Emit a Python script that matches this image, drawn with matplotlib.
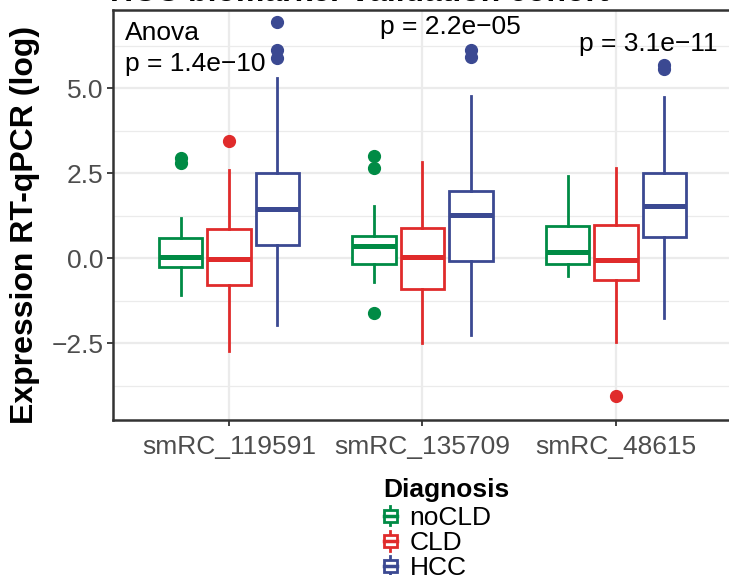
import matplotlib
matplotlib.use('Agg')
import matplotlib.pyplot as plt
from matplotlib.legend_handler import HandlerBase
from matplotlib.patches import Rectangle
from matplotlib.lines import Line2D

plt.rcParams['font.family'] = ['Liberation Sans', 'DejaVu Sans']

genes = ['smRC_119591', 'smRC_135709', 'smRC_48615']
groups = ['noCLD', 'CLD', 'HCC']
colors = ['#008B45', '#E02B2B', '#3B4992']
p_labels = ['p = 1.4e\u221210', 'p = 2.2e\u221205', 'p = 3.1e\u221211']

# box statistics, one value per gene
med = {'noCLD': [0.04, 0.35, 0.18], 'CLD': [-0.02, 0.03, -0.06], 'HCC': [1.46, 1.26, 1.54]}
q1 = {'noCLD': [-0.26, -0.17, -0.17], 'CLD': [-0.78, -0.90, -0.63], 'HCC': [0.40, -0.07, 0.62]}
q3 = {'noCLD': [0.59, 0.67, 0.94], 'CLD': [0.86, 0.89, 0.99], 'HCC': [2.50, 1.99, 2.52]}
whislo = {'noCLD': [-1.07, -0.70, -0.53], 'CLD': [-2.74, -2.50, -2.46], 'HCC': [-1.96, -2.25, -1.76]}
whishi = {'noCLD': [1.18, 1.54, 2.41], 'CLD': [2.60, 2.83, 2.65], 'HCC': [5.30, 4.78, 4.75]}
fliers = {
    'noCLD': [[2.96, 2.80], [3.02, 2.65, -1.61], []],
    'CLD': [[3.46], [], [-4.06]],
    'HCC': [[6.95, 6.13, 5.89], [6.13, 5.93], [5.70, 5.56]],
}

fig = plt.figure(figsize=(7.29, 5.75), dpi=100)
ax = fig.add_axes([113 / 729, 1 - 420 / 575, (732 - 113) / 729, 410 / 575])

dodge = 0.25
for j, (g, c) in enumerate(zip(groups, colors)):
    stats = []
    for i in range(len(genes)):
        stats.append({'med': med[g][i], 'q1': q1[g][i], 'q3': q3[g][i],
                      'whislo': whislo[g][i], 'whishi': whishi[g][i],
                      'fliers': fliers[g][i]})
    pos = [i + (j - 1) * dodge for i in range(len(genes))]
    ax.bxp(stats, positions=pos, widths=0.225, showcaps=False, patch_artist=True,
           boxprops=dict(facecolor='white', edgecolor=c, linewidth=2.0),
           medianprops=dict(color=c, linewidth=3.6, solid_capstyle='butt'),
           whiskerprops=dict(color=c, linewidth=2.0),
           flierprops=dict(marker='o', markerfacecolor=c, markeredgecolor=c, markersize=8.5),
           zorder=3)

ax.set_xlim(-0.6, 2.6)
ax.set_ylim(-4.756, 7.303)
ax.set_xticks(range(len(genes)))
ax.set_xticklabels(genes)
ax.set_yticks([-2.5, 0.0, 2.5, 5.0])
ax.set_yticklabels(['\u22122.5', '0.0', '2.5', '5.0'])
ax.set_yticks([-3.75, -1.25, 1.25, 3.75, 6.25], minor=True)
ax.grid(True, which='major', color='#EBEBEB', linewidth=1.6, zorder=0)
ax.grid(True, which='minor', axis='y', color='#EBEBEB', linewidth=0.9, zorder=0)
ax.set_axisbelow(True)
for s in ax.spines.values():
    s.set_color('#333333')
    s.set_linewidth(1.8)
ax.tick_params(which='major', length=4, width=1.3, color='#333333',
               labelsize=19, labelcolor='#4D4D4D', pad=3)
ax.tick_params(axis='x', which='major', pad=7)
ax.tick_params(which='minor', length=0)

fig.text(25 / 729, 1 - 225 / 575, 'Expression RT-qPCR (log)', fontsize=23,
         fontweight='bold', rotation=90, ha='center', va='center')

# anova labels
ax.text(-0.537, 6.63, 'Anova', fontsize=19, ha='left', va='center')
ax.text(-0.537, 5.71, p_labels[0], fontsize=19, ha='left', va='center')
ax.text(0.78, 6.80, p_labels[1], fontsize=19, ha='left', va='center')
ax.text(1.81, 6.30, p_labels[2], fontsize=19, ha='left', va='center')

# title sits mostly above the visible area, as in the original crop
fig.text(110 / 729, 1 - 1 / 575, 'HCC biomarker validation cohort', fontsize=23,
         fontweight='bold', ha='left', va='baseline')


class BoxHandler(HandlerBase):
    def create_artists(self, legend, orig_handle, xdescent, ydescent,
                       width, height, fontsize, trans):
        c = orig_handle.get_color()
        x0, y0 = -xdescent, -ydescent
        cx = x0 + width / 2
        box = Rectangle((x0 + width * 0.05, y0 + height * 0.2), width * 0.9, height * 0.6,
                        facecolor='white', edgecolor=c, linewidth=2.0, transform=trans)
        m = Line2D([x0 + width * 0.05, x0 + width * 0.95], [y0 + height * 0.5] * 2,
                   color=c, linewidth=2.5, transform=trans)
        w1 = Line2D([cx, cx], [y0, y0 + height * 0.2], color=c, linewidth=2.0, transform=trans)
        w2 = Line2D([cx, cx], [y0 + height * 0.8, y0 + height], color=c, linewidth=2.0, transform=trans)
        return [w1, w2, box, m]


fig.text(383 / 729, 1 - 490 / 575, 'Diagnosis', fontsize=19, fontweight='bold',
         ha='left', va='center')
handles = [Line2D([], [], color=c) for c in colors]
leg = fig.legend(handles, groups, loc='upper left', bbox_to_anchor=(383 / 729, 1 - 506 / 575),
                 frameon=False, fontsize=19,
                 handler_map={Line2D: BoxHandler()}, handlelength=0.55,
                 handleheight=0.75, handletextpad=0.45, labelspacing=0.04,
                 borderpad=0, borderaxespad=0)

fig.savefig('out.png', dpi=100)
